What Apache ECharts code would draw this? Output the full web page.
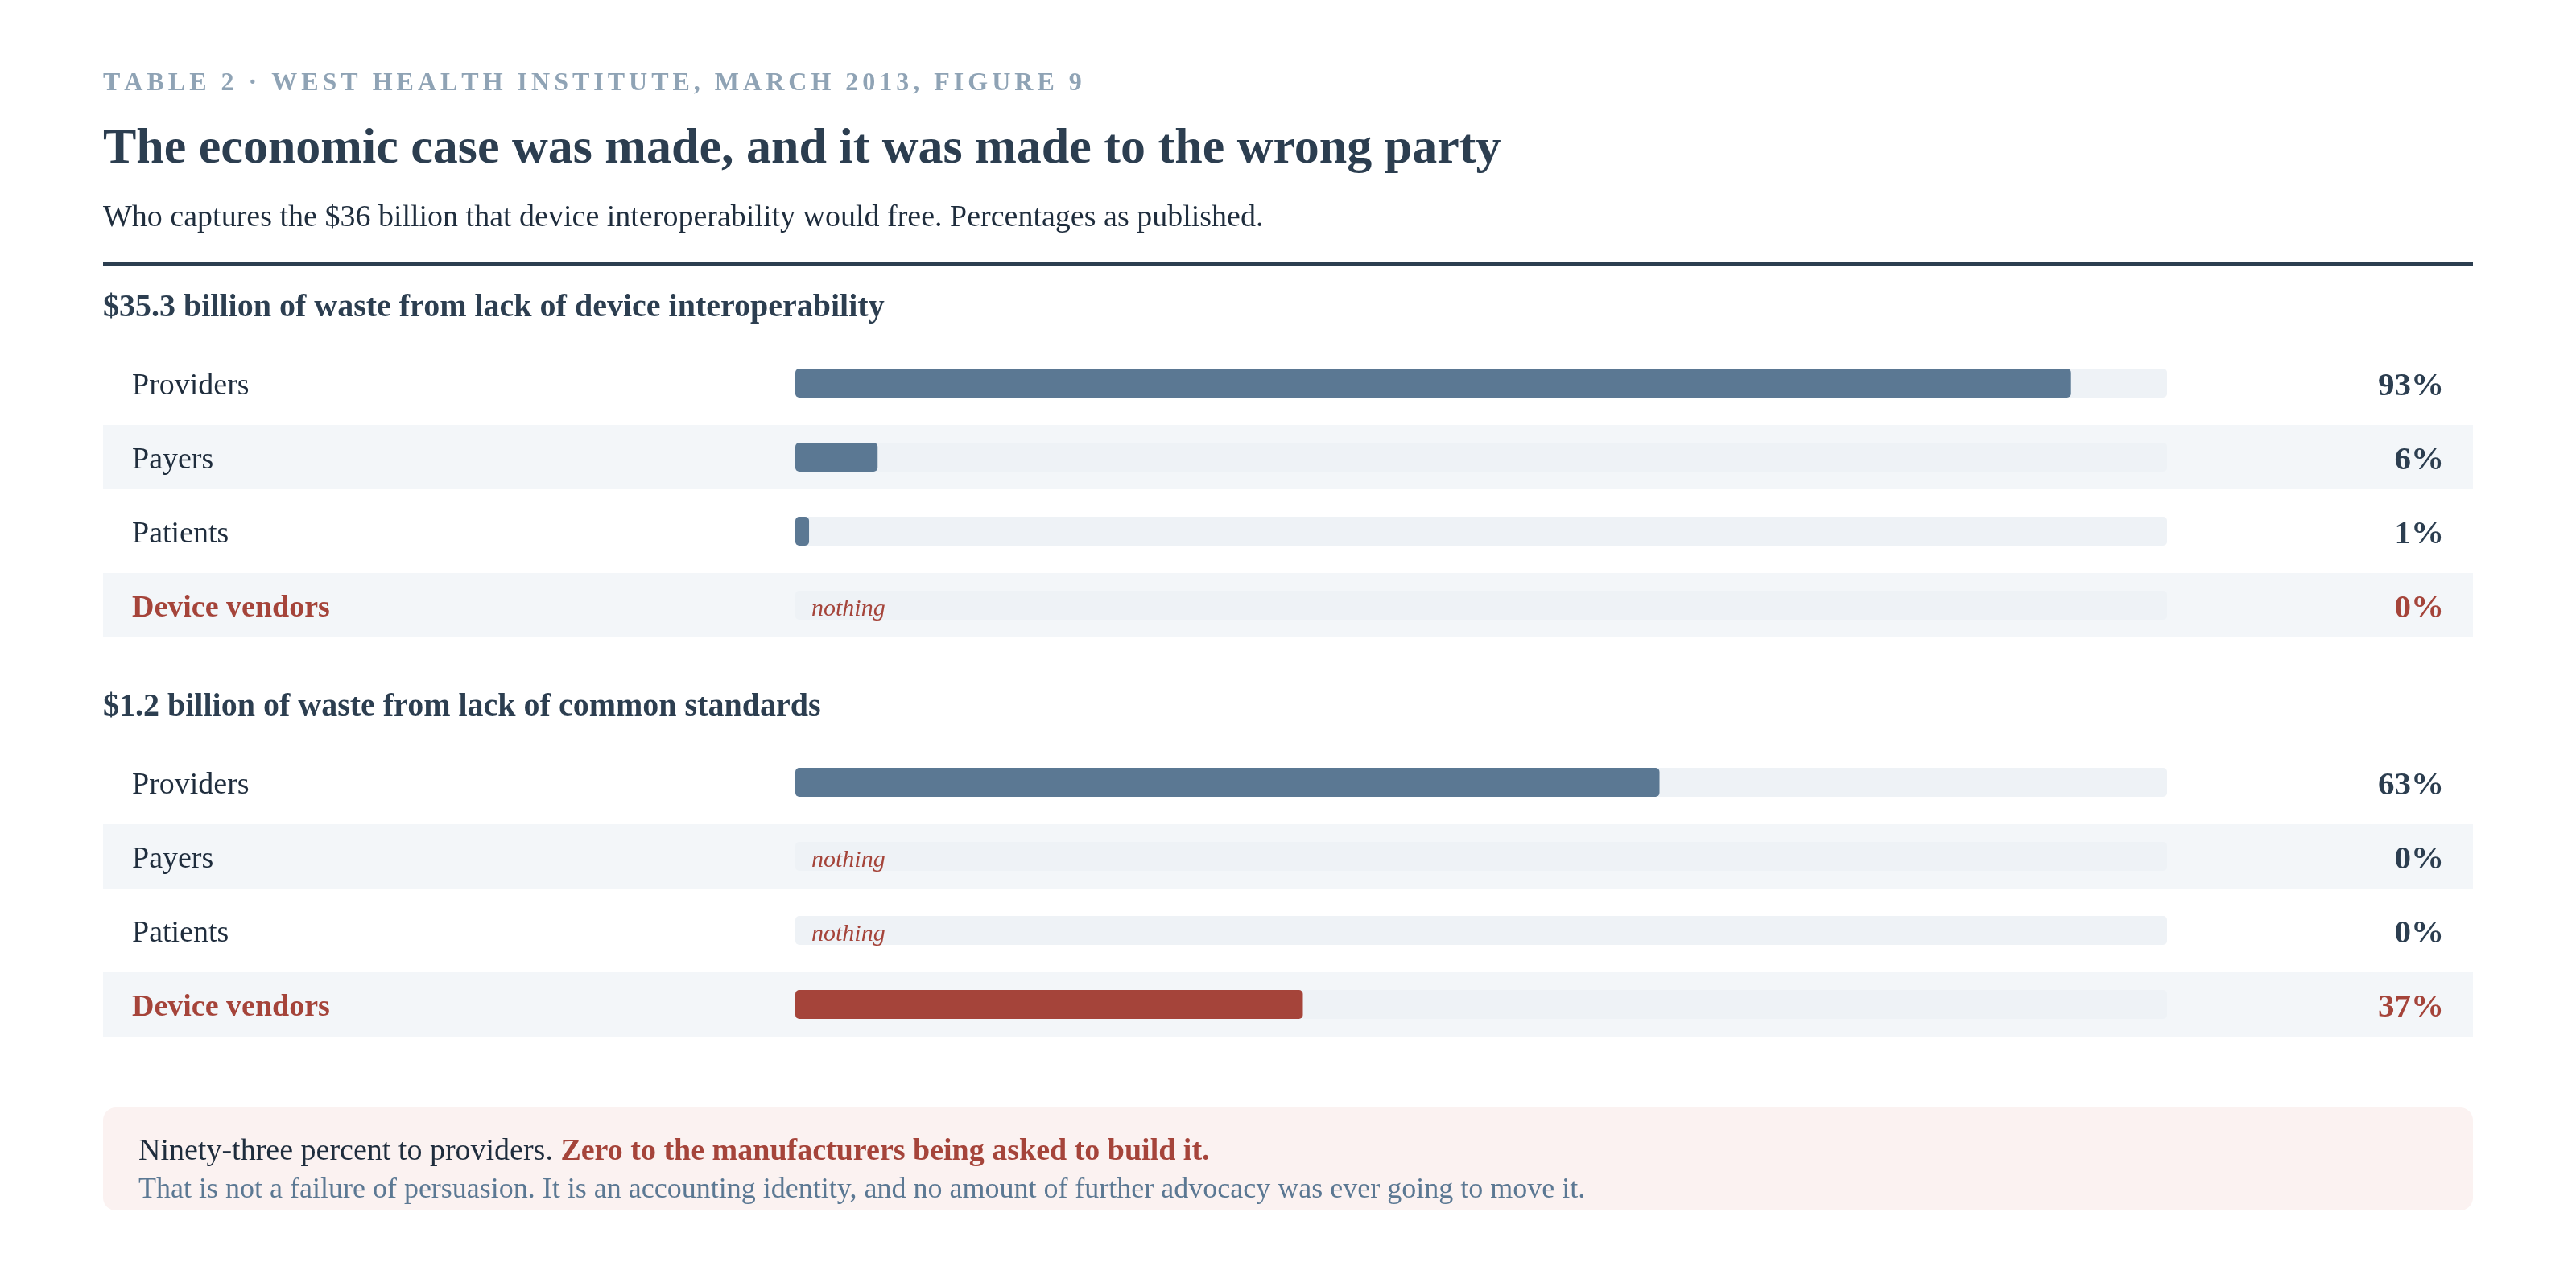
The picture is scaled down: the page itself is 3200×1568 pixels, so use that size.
<!DOCTYPE html>
<html>
<head>
<meta charset="utf-8">
<script src="https://cdn.jsdelivr.net/npm/echarts@6/dist/echarts.min.js"></script>
<style>
html,body{margin:0;padding:0;background:#ffffff;}
#chart{width:3200px;height:1568px;}
</style>
</head>
<body>
<div id="chart"></div>
<script>
// ---- data ----
const eyebrow = 'TABLE 2 · WEST HEALTH INSTITUTE, MARCH 2013, FIGURE 9';
const titleText = 'The economic case was made, and it was made to the wrong party';
const subtitleText = 'Who captures the $36 billion that device interoperability would free. Percentages as published.';
const sectionTitles = ['$35.3 billion of waste from lack of device interoperability', '$1.2 billion of waste from lack of common standards'];
const categories = ['Providers', 'Payers', 'Patients', 'Device vendors'];
const interopShares = [93, 6, 1, 0];
const standardsShares = [63, 0, 0, 37];
const highlightCategory = 'Device vendors';
const zeroLabel = 'nothing';
const calloutLead = 'Ninety-three percent to providers. ';
const calloutStrong = 'Zero to the manufacturers being asked to build it.';
const calloutNote = 'That is not a failure of persuasion. It is an accounting identity, and no amount of further advocacy was ever going to move it.';

// ---- style ----
const FONT = '"Liberation Serif", "Times New Roman", serif';
const DARK = '#1f2d3d';
const TITLE = '#2c3e50';
const BAR = '#5b7893';
const RED = '#a5443a';
const TRACK = '#eef2f6';
const STRIPE = '#f3f6f9';
const MUTED = '#8fa3b5';

const chart = echarts.init(document.getElementById('chart'), null, {renderer: 'canvas'});

function baseY(baseline, fs) { return baseline - 0.24 * fs; }

// eyebrow letter-spaced, char by char
const cv = document.createElement('canvas').getContext('2d');
const eyeFs = 32, eyeLs = 5.0;
cv.font = 'bold ' + eyeFs + 'px "Liberation Serif"';
const graphics = [];
let ex = 128;
for (const ch of eyebrow) {
  graphics.push({type: 'text', style: {text: ch, x: ex, y: baseY(111, eyeFs), fontSize: eyeFs, fontWeight: 'bold', fontFamily: FONT, fill: MUTED, verticalAlign: 'middle', textAlign: 'left'}});
  ex += cv.measureText(ch).width + eyeLs;
}
graphics.push(
  {type: 'text', style: {text: titleText, x: 128, y: baseY(201, 62), fontSize: 62, fontWeight: 'bold', fontFamily: FONT, fill: TITLE, verticalAlign: 'middle'}},
  {type: 'text', style: {text: subtitleText, x: 128, y: baseY(280, 38), fontSize: 38, fontFamily: FONT, fill: DARK, verticalAlign: 'middle'}},
  {type: 'rect', shape: {x: 128, y: 326, width: 2944, height: 4}, style: {fill: TITLE}},
  {type: 'text', style: {text: sectionTitles[0], x: 128, y: baseY(392, 40), fontSize: 40, fontWeight: 'bold', fontFamily: FONT, fill: TITLE, verticalAlign: 'middle'}},
  {type: 'text', style: {text: sectionTitles[1], x: 128, y: baseY(888, 40), fontSize: 40, fontWeight: 'bold', fontFamily: FONT, fill: TITLE, verticalAlign: 'middle'}},
  {type: 'rect', z: -1, shape: {x: 128, y: 1376, width: 2944, height: 128, r: 16}, style: {fill: '#fbf2f1'}},
  {type: 'text', style: {text: '{a|' + calloutLead + '}{b|' + calloutStrong + '}', x: 172, y: baseY(1440, 38), fontFamily: FONT, verticalAlign: 'middle',
    rich: {a: {fontSize: 38, fontFamily: FONT, fill: DARK, color: DARK}, b: {fontSize: 38, fontFamily: FONT, fontWeight: 'bold', fill: RED, color: RED}}}},
  {type: 'text', style: {text: calloutNote, x: 172, y: baseY(1487, 36), fontSize: 36, fontFamily: FONT, fill: BAR, verticalAlign: 'middle'}}
);

const gridTops = [430, 926];
const shares = [interopShares, standardsShares];
const grids = [], xAxes = [], yAxes = [], series = [];

gridTops.forEach((top, s) => {
  const vals = shares[s];
  grids.push({left: 128, width: 2944, top: top, height: 368});
  grids.push({left: 988, width: 1704, top: top, height: 368});
  const gS = s * 2, gB = s * 2 + 1;
  xAxes.push({gridIndex: gS, type: 'value', min: 0, max: 1, show: false});
  xAxes.push({gridIndex: gB, type: 'value', min: 0, max: 100, show: false});
  const yL = yAxes.length;
  yAxes.push({gridIndex: gS, type: 'category', data: categories, inverse: true, position: 'left', z: 10,
    axisLine: {show: false}, axisTick: {show: false}, splitLine: {show: false},
    axisLabel: {inside: true, interval: 0, margin: 36, padding: [8, 0, 0, 0], fontFamily: FONT, fontSize: 38, color: DARK,
      formatter: v => v === highlightCategory ? '{r|' + v + '}' : '{n|' + v + '}',
      rich: {n: {fontFamily: FONT, fontSize: 38, color: DARK}, r: {fontFamily: FONT, fontSize: 38, fontWeight: 'bold', color: RED}}}});
  yAxes.push({gridIndex: gS, type: 'category', data: categories, inverse: true, position: 'right', z: 10,
    axisLine: {show: false}, axisTick: {show: false}, splitLine: {show: false},
    axisLabel: {inside: true, interval: 0, margin: 36, padding: [8, 0, 0, 0], fontFamily: FONT, fontSize: 41, fontWeight: 'bold', color: TITLE,
      formatter: (v, i) => (categories[i] === highlightCategory ? '{r|' : '{d|') + vals[i] + '%}',
      rich: {d: {fontFamily: FONT, fontSize: 41, fontWeight: 'bold', color: TITLE}, r: {fontFamily: FONT, fontSize: 41, fontWeight: 'bold', color: RED}}}});
  yAxes.push({gridIndex: gB, type: 'category', data: categories, inverse: true, show: false});
  series.push({type: 'bar', xAxisIndex: gS, yAxisIndex: yL, barWidth: 80, silent: true, z: 1,
    itemStyle: {color: STRIPE}, data: categories.map((c, i) => i % 2 ? 1 : 0)});
  series.push({type: 'bar', xAxisIndex: gB, yAxisIndex: yL + 2, barWidth: 36, z: 3,
    showBackground: true, backgroundStyle: {color: TRACK, borderRadius: 5},
    data: vals.map((v, i) => ({value: v, itemStyle: {color: categories[i] === highlightCategory ? RED : BAR, borderRadius: 5}})),
    label: {show: true, position: 'right', distance: 20, offset: [0, 5], fontFamily: FONT, fontSize: 30, fontStyle: 'italic', color: RED,
      formatter: p => p.value === 0 ? zeroLabel : ''}});
});

chart.setOption({
  animation: false,
  backgroundColor: '#ffffff',
  grid: grids, xAxis: xAxes, yAxis: yAxes, series: series,
  graphic: {elements: graphics}
});
</script>
</body>
</html>
